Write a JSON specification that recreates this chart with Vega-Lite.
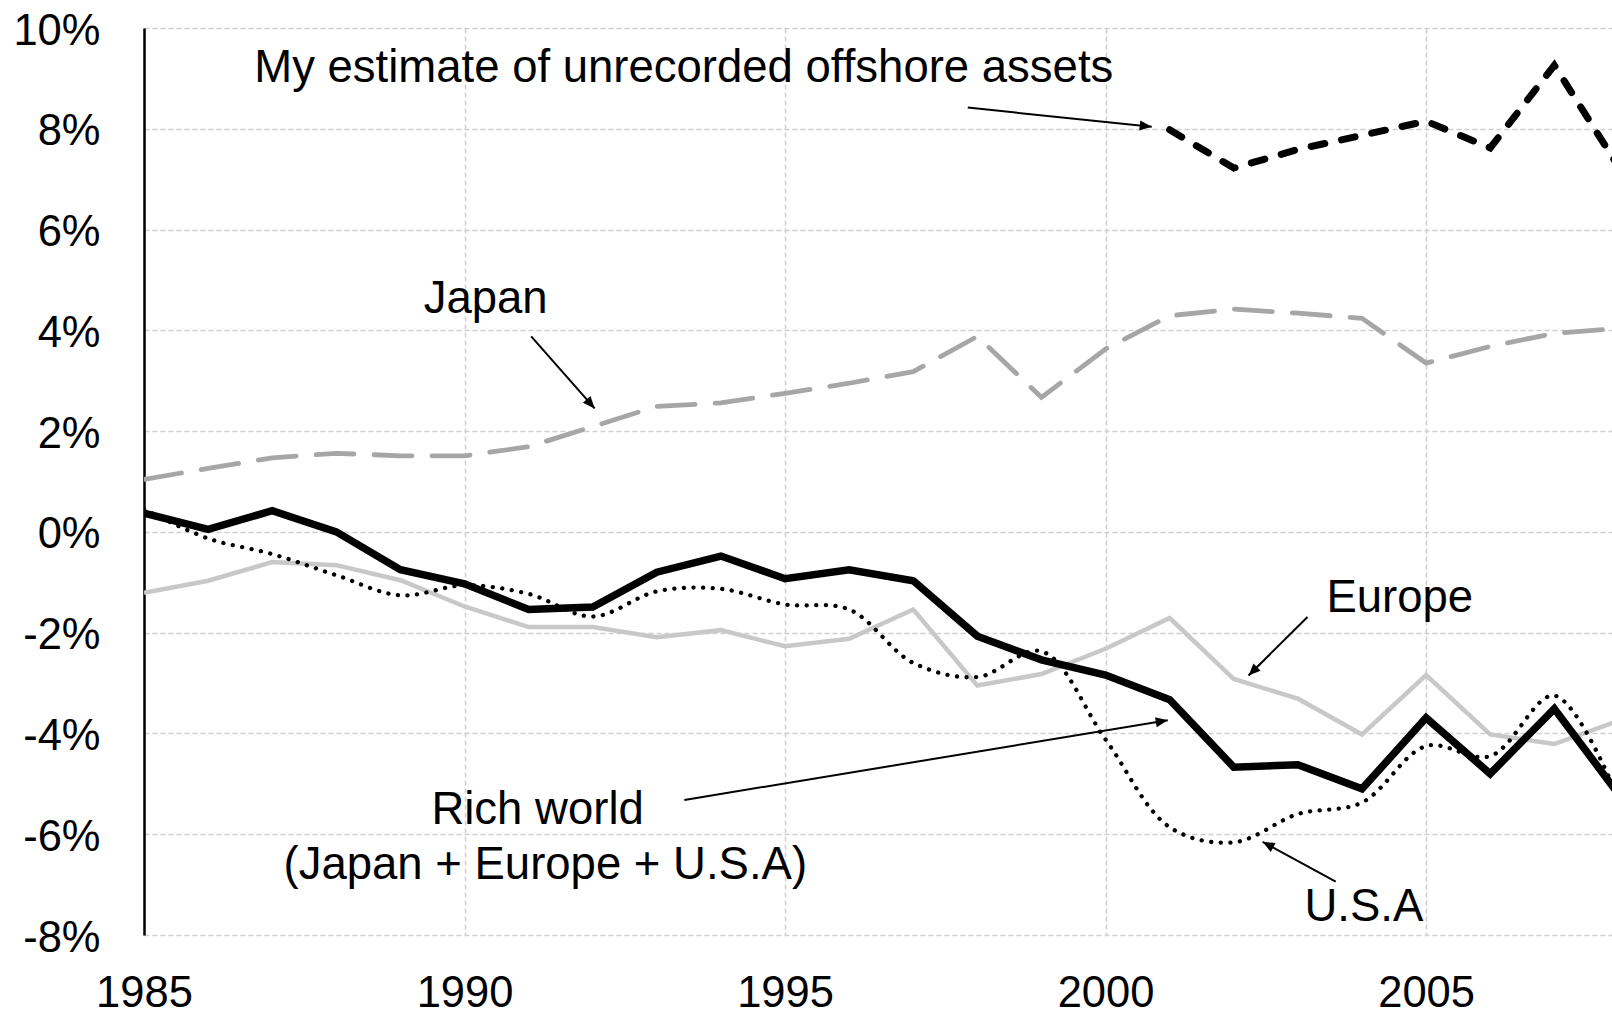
{
  "$schema": "https://vega.github.io/schema/vega-lite/v6.json",
  "autosize": {"type": "none"},
  "padding": {"left": 144, "top": 28, "right": 0, "bottom": 81},
  "width": 1468,
  "height": 907,
  "background": "white",
  "config": {
    "view": {"stroke": null},
    "font": "Liberation Sans"
  },
  "datasets": {
    "series": [
      {"year": 1985, "series": "Rich world", "value": 0.37},
      {"year": 1986, "series": "Rich world", "value": 0.05},
      {"year": 1987, "series": "Rich world", "value": 0.42},
      {"year": 1988, "series": "Rich world", "value": 0.0},
      {"year": 1989, "series": "Rich world", "value": -0.75},
      {"year": 1990, "series": "Rich world", "value": -1.03},
      {"year": 1991, "series": "Rich world", "value": -1.54},
      {"year": 1992, "series": "Rich world", "value": -1.49},
      {"year": 1993, "series": "Rich world", "value": -0.8},
      {"year": 1994, "series": "Rich world", "value": -0.48},
      {"year": 1995, "series": "Rich world", "value": -0.93},
      {"year": 1996, "series": "Rich world", "value": -0.75},
      {"year": 1997, "series": "Rich world", "value": -0.97},
      {"year": 1998, "series": "Rich world", "value": -2.07},
      {"year": 1999, "series": "Rich world", "value": -2.54},
      {"year": 2000, "series": "Rich world", "value": -2.84},
      {"year": 2001, "series": "Rich world", "value": -3.33},
      {"year": 2002, "series": "Rich world", "value": -4.67},
      {"year": 2003, "series": "Rich world", "value": -4.62},
      {"year": 2004, "series": "Rich world", "value": -5.1},
      {"year": 2005, "series": "Rich world", "value": -3.69},
      {"year": 2006, "series": "Rich world", "value": -4.8},
      {"year": 2007, "series": "Rich world", "value": -3.51},
      {"year": 2008, "series": "Rich world", "value": -5.2},
      {"year": 1985, "series": "U.S.A", "value": 0.45},
      {"year": 1986, "series": "U.S.A", "value": -0.13},
      {"year": 1987, "series": "U.S.A", "value": -0.44},
      {"year": 1988, "series": "U.S.A", "value": -0.86},
      {"year": 1989, "series": "U.S.A", "value": -1.26},
      {"year": 1990, "series": "U.S.A", "value": -1.06},
      {"year": 1991, "series": "U.S.A", "value": -1.23},
      {"year": 1992, "series": "U.S.A", "value": -1.68},
      {"year": 1993, "series": "U.S.A", "value": -1.18},
      {"year": 1994, "series": "U.S.A", "value": -1.13},
      {"year": 1995, "series": "U.S.A", "value": -1.44},
      {"year": 1996, "series": "U.S.A", "value": -1.54},
      {"year": 1997, "series": "U.S.A", "value": -2.6},
      {"year": 1998, "series": "U.S.A", "value": -2.88},
      {"year": 1999, "series": "U.S.A", "value": -2.37},
      {"year": 2000, "series": "U.S.A", "value": -4.12},
      {"year": 2001, "series": "U.S.A", "value": -5.86},
      {"year": 2002, "series": "U.S.A", "value": -6.16},
      {"year": 2003, "series": "U.S.A", "value": -5.6},
      {"year": 2004, "series": "U.S.A", "value": -5.37},
      {"year": 2005, "series": "U.S.A", "value": -4.25},
      {"year": 2006, "series": "U.S.A", "value": -4.45},
      {"year": 2007, "series": "U.S.A", "value": -3.25},
      {"year": 2008, "series": "U.S.A", "value": -5.3},
      {"year": 1985, "series": "Europe", "value": -1.21},
      {"year": 1986, "series": "Europe", "value": -0.97},
      {"year": 1987, "series": "Europe", "value": -0.6},
      {"year": 1988, "series": "Europe", "value": -0.66},
      {"year": 1989, "series": "Europe", "value": -0.96},
      {"year": 1990, "series": "Europe", "value": -1.48},
      {"year": 1991, "series": "Europe", "value": -1.89},
      {"year": 1992, "series": "Europe", "value": -1.89},
      {"year": 1993, "series": "Europe", "value": -2.09},
      {"year": 1994, "series": "Europe", "value": -1.95},
      {"year": 1995, "series": "Europe", "value": -2.27},
      {"year": 1996, "series": "Europe", "value": -2.12},
      {"year": 1997, "series": "Europe", "value": -1.54},
      {"year": 1998, "series": "Europe", "value": -3.05},
      {"year": 1999, "series": "Europe", "value": -2.82},
      {"year": 2000, "series": "Europe", "value": -2.32},
      {"year": 2001, "series": "Europe", "value": -1.71},
      {"year": 2002, "series": "Europe", "value": -2.92},
      {"year": 2003, "series": "Europe", "value": -3.31},
      {"year": 2004, "series": "Europe", "value": -4.02},
      {"year": 2005, "series": "Europe", "value": -2.84},
      {"year": 2006, "series": "Europe", "value": -4.02},
      {"year": 2007, "series": "Europe", "value": -4.21},
      {"year": 2008, "series": "Europe", "value": -3.75},
      {"year": 1985, "series": "Japan", "value": 1.04},
      {"year": 1986, "series": "Japan", "value": 1.26},
      {"year": 1987, "series": "Japan", "value": 1.47},
      {"year": 1988, "series": "Japan", "value": 1.56},
      {"year": 1989, "series": "Japan", "value": 1.51},
      {"year": 1990, "series": "Japan", "value": 1.51},
      {"year": 1991, "series": "Japan", "value": 1.69},
      {"year": 1992, "series": "Japan", "value": 2.09},
      {"year": 1993, "series": "Japan", "value": 2.49},
      {"year": 1994, "series": "Japan", "value": 2.56},
      {"year": 1995, "series": "Japan", "value": 2.75},
      {"year": 1996, "series": "Japan", "value": 2.95},
      {"year": 1997, "series": "Japan", "value": 3.18},
      {"year": 1998, "series": "Japan", "value": 3.88},
      {"year": 1999, "series": "Japan", "value": 2.67},
      {"year": 2000, "series": "Japan", "value": 3.63},
      {"year": 2001, "series": "Japan", "value": 4.29},
      {"year": 2002, "series": "Japan", "value": 4.42},
      {"year": 2003, "series": "Japan", "value": 4.34},
      {"year": 2004, "series": "Japan", "value": 4.24},
      {"year": 2005, "series": "Japan", "value": 3.35},
      {"year": 2006, "series": "Japan", "value": 3.68},
      {"year": 2007, "series": "Japan", "value": 3.94},
      {"year": 2008, "series": "Japan", "value": 4.04},
      {"year": 2001, "series": "Offshore", "value": 7.98},
      {"year": 2002, "series": "Offshore", "value": 7.22},
      {"year": 2003, "series": "Offshore", "value": 7.59},
      {"year": 2004, "series": "Offshore", "value": 7.87},
      {"year": 2005, "series": "Offshore", "value": 8.15},
      {"year": 2006, "series": "Offshore", "value": 7.62},
      {"year": 2007, "series": "Offshore", "value": 9.26},
      {"year": 2008, "series": "Offshore", "value": 7.25}
    ],
    "labels": [
      {"text": "My estimate of unrecorded offshore assets", "x": 1993.42, "y": 8.93},
      {"text": "Japan", "x": 1990.33, "y": 4.34},
      {"text": "Europe", "x": 2004.59, "y": -1.59},
      {"text": "Rich world", "x": 1991.14, "y": -5.79},
      {"text": "(Japan + Europe + U.S.A)", "x": 1991.26, "y": -6.89},
      {"text": "U.S.A", "x": 2004.03, "y": -7.72}
    ],
    "arrows": [
      {"x1": 1997.85, "y1": 8.42, "x2": 2000.72, "y2": 8.04},
      {"x1": 1991.04, "y1": 3.88, "x2": 1992.03, "y2": 2.45},
      {"x1": 2003.15, "y1": -1.69, "x2": 2002.23, "y2": -2.85},
      {"x1": 1993.43, "y1": -5.32, "x2": 2000.97, "y2": -3.74},
      {"x1": 2003.59, "y1": -6.94, "x2": 2002.45, "y2": -6.15}
    ]
  },
  "layer": [
    {
      "data": {"name": "series"},
      "transform": [{"filter": "datum.series === 'Japan'"}],
      "mark": {"type": "line", "clip": true, "color": "#A6A6A6", "strokeWidth": 4.8, "strokeDash": [38, 20], "strokeCap": "round"},
      "encoding": {
        "x": {
          "field": "year", "type": "quantitative",
          "scale": {"domain": [1985, 2007.9], "nice": false, "zero": false},
          "axis": {
            "title": null, "values": [1985, 1990, 1995, 2000, 2005], "format": "d",
            "domain": false, "ticks": false, "tickSize": 0,
            "grid": true, "gridColor": "#CFCFCF", "gridDash": [5, 3], "gridWidth": 1.5,
            "labelFont": "Liberation Sans", "labelFontSize": 43.5, "labelColor": "#000000",
            "labelPadding": 37, "labelFlush": false, "labelOverlap": false, "labelBound": false
          }
        },
        "y": {
          "field": "value", "type": "quantitative",
          "scale": {"domain": [-8, 10], "nice": false, "zero": false},
          "axis": {
            "title": null, "values": [-8, -6, -4, -2, 0, 2, 4, 6, 8, 10],
            "labelExpr": "datum.value + '%'",
            "domain": true, "domainColor": "#000000", "domainWidth": 2.5,
            "ticks": false, "tickSize": 0,
            "grid": true, "gridColor": "#CFCFCF", "gridDash": [5, 3], "gridWidth": 1.5,
            "labelFont": "Liberation Sans", "labelFontSize": 43.5, "labelColor": "#000000",
            "labelPadding": 44, "labelOffset": 3, "labelFlush": false, "labelOverlap": false, "labelBound": false
          }
        }
      }
    },
    {
      "mark": {"type": "rule", "color": "#000000", "strokeWidth": 3},
      "encoding": {"y": {"datum": 0}}
    },
    {
      "data": {"name": "series"},
      "transform": [{"filter": "datum.series === 'Europe'"}],
      "mark": {"type": "line", "clip": true, "color": "#C8C8C8", "strokeWidth": 4.5},
      "encoding": {
        "x": {"field": "year", "type": "quantitative"},
        "y": {"field": "value", "type": "quantitative"}
      }
    },
    {
      "data": {"name": "series"},
      "transform": [{"filter": "datum.series === 'U.S.A'"}],
      "mark": {"type": "line", "clip": true, "color": "#000000", "strokeWidth": 4.3, "strokeDash": [0.1, 9.5], "strokeCap": "round", "interpolate": "catmull-rom"},
      "encoding": {
        "x": {"field": "year", "type": "quantitative"},
        "y": {"field": "value", "type": "quantitative"}
      }
    },
    {
      "data": {"name": "series"},
      "transform": [{"filter": "datum.series === 'Rich world'"}],
      "mark": {"type": "line", "clip": true, "color": "#000000", "strokeWidth": 7.5, "strokeJoin": "miter"},
      "encoding": {
        "x": {"field": "year", "type": "quantitative"},
        "y": {"field": "value", "type": "quantitative"}
      }
    },
    {
      "data": {"name": "series"},
      "transform": [{"filter": "datum.series === 'Offshore'"}],
      "mark": {"type": "line", "clip": true, "color": "#000000", "strokeWidth": 7, "strokeDash": [14, 17], "strokeCap": "round"},
      "encoding": {
        "x": {"field": "year", "type": "quantitative"},
        "y": {"field": "value", "type": "quantitative"}
      }
    },
    {
      "data": {"name": "arrows"},
      "mark": {"type": "rule", "color": "#000000", "strokeWidth": 2},
      "encoding": {
        "x": {"field": "x1", "type": "quantitative"},
        "y": {"field": "y1", "type": "quantitative"},
        "x2": {"field": "x2"},
        "y2": {"field": "y2"}
      }
    },
    {
      "data": {"name": "arrows"},
      "transform": [{"calculate": "atan2((datum.x2 - datum.x1) * 64.1, (datum.y2 - datum.y1) * 50.4) * 180 / PI", "as": "ang"}],
      "mark": {"type": "point", "shape": "M0,0L-0.42,1L0.42,1Z", "filled": true, "color": "#000000", "opacity": 1, "size": 576, "strokeWidth": 0},
      "encoding": {
        "x": {"field": "x2", "type": "quantitative"},
        "y": {"field": "y2", "type": "quantitative"},
        "angle": {"field": "ang", "type": "quantitative", "scale": null}
      }
    },
    {
      "data": {"name": "labels"},
      "mark": {"type": "text", "font": "Liberation Sans", "fontSize": 45.5, "color": "#000000", "align": "center", "baseline": "alphabetic"},
      "encoding": {
        "x": {"field": "x", "type": "quantitative"},
        "y": {"field": "y", "type": "quantitative"},
        "text": {"field": "text"}
      }
    }
  ]
}
